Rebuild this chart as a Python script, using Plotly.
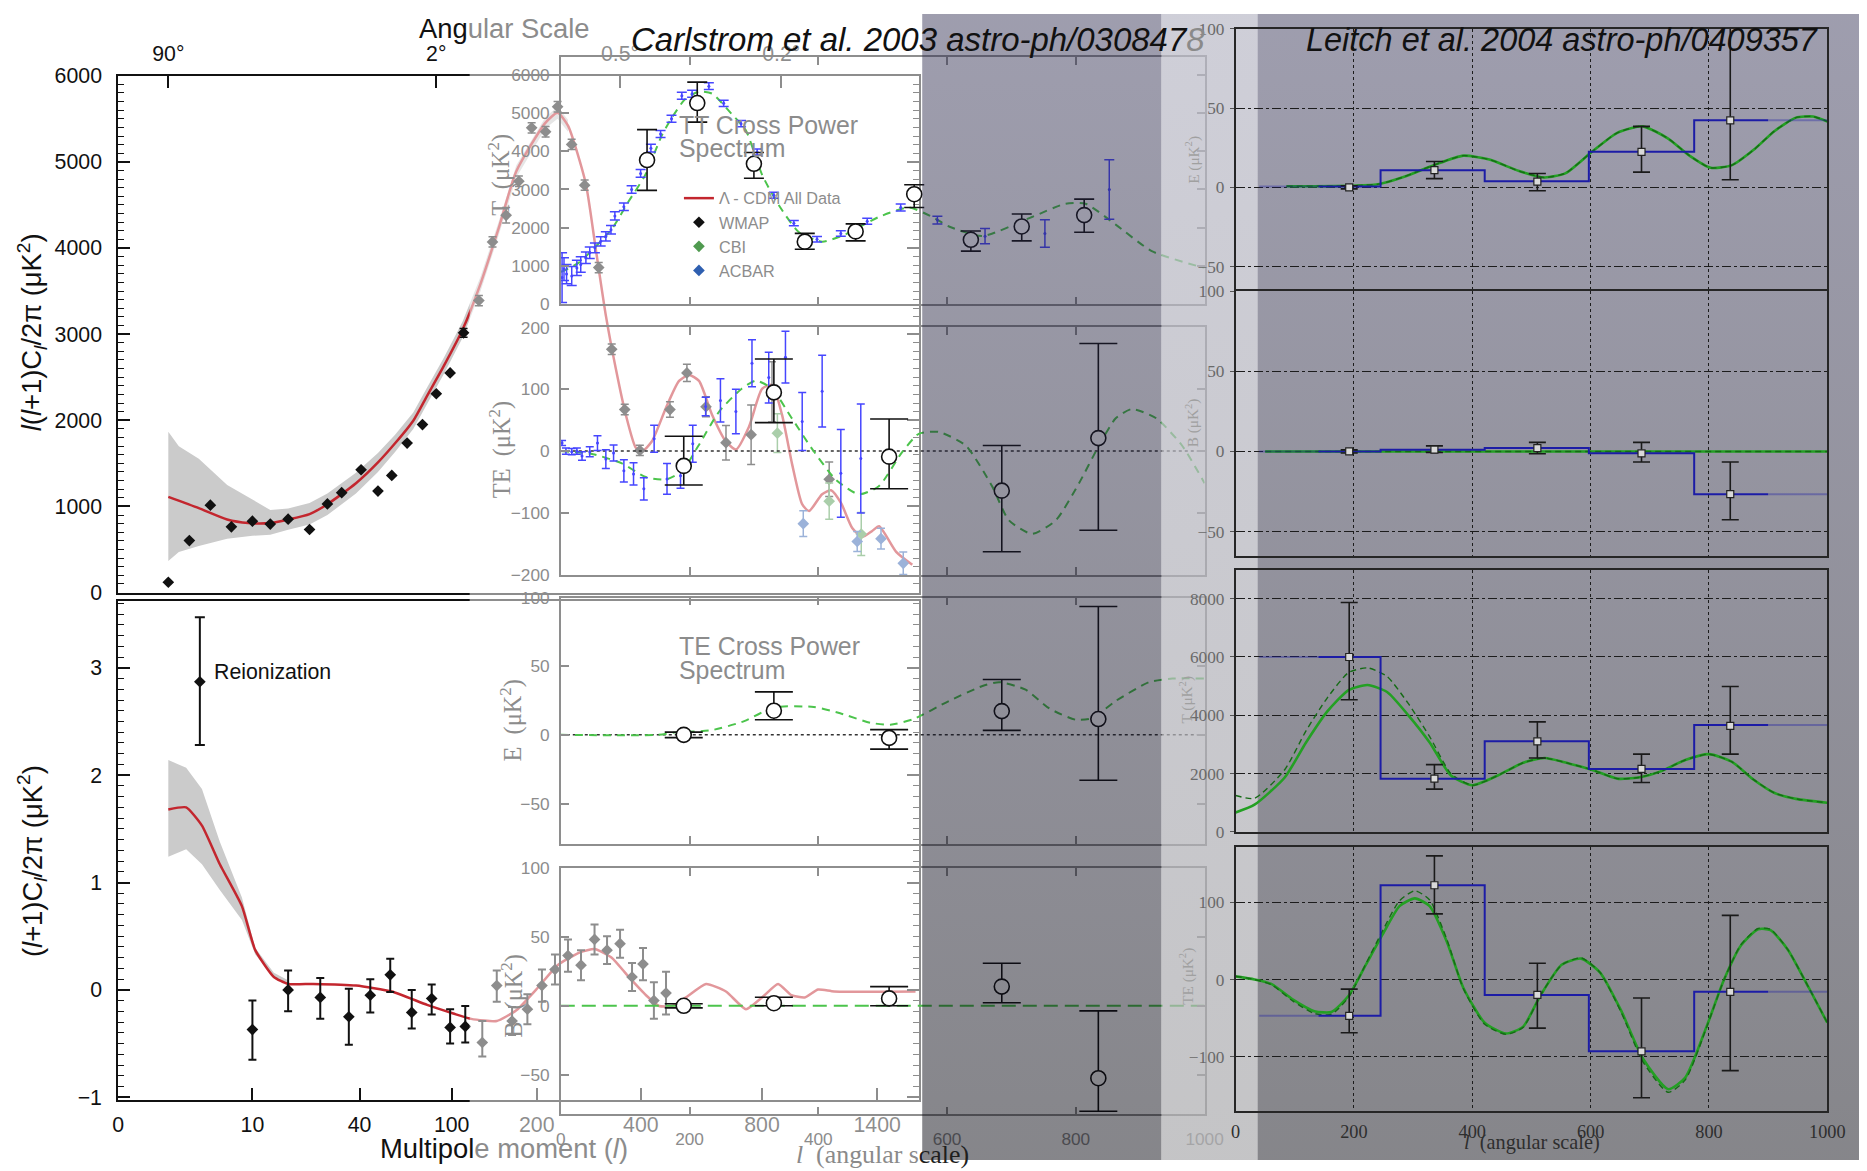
import numpy as np
import plotly.graph_objects as go

W, H = 1867, 1171            # size of the finished picture, in picture pixels
PAGE_MARGIN = 8              # default body margin the browser puts round the plot div
CAPTURE_SCALE = 0.9855       # picture pixels per page pixel in the captured view
VIEW_W, VIEW_H = round(W / CAPTURE_SCALE), round(H / CAPTURE_SCALE)
FIG_W, FIG_H = VIEW_W - 2 * PAGE_MARGIN, VIEW_H - 2 * PAGE_MARGIN
SANS = "Liberation Sans"
SERIF = "Liberation Serif"

# ---------------- WMAP first-year figure: TT (upper) and TE (lower) ----------------
# the multipole axis of this figure is stretched: tick multipoles and their place on the axis
WMAP_AXIS_L = [0, 2, 10, 40, 100, 200, 400, 800, 1400, 2000]
WMAP_AXIS_U = [0, 50, 134, 241, 333, 418, 522, 643, 758, 873]
WMAP_L_TICKS = [0, 10, 40, 100, 200, 400, 800, 1400]
ANGLE_L = [2, 90, 360, 900]
ANGLE_TEXT = ["90°", "2°", "0.5°", "0.2°"]

TT_LOWL_L = [2, 4, 6, 8, 10, 15, 20, 26, 31, 35, 41, 52, 61, 71, 81, 90, 99]
TT_LOWL_V = [120, 604, 1015, 763, 829, 795, 852, 732, 1029, 1160, 1426, 1178, 1360, 1735, 1950, 2308, 2550]
TT_BIN_L = [114, 132, 148, 164, 179, 194, 217, 240, 267, 292, 319, 344, 369, 398,
            496, 552, 615, 681, 764, 852, 1150]
TT_BIN_V = [3015, 3390, 4071, 4380, 4775, 5395, 5350, 5640, 5203, 4730, 3773, 2825, 2125, 1650,
            2125, 2550, 2157, 1740, 1833, 2330, 1315]
TT_BIN_E = [50, 60, 60, 90, 60, 60, 60, 60, 60, 60, 60, 60, 60, 60,
            90, 100, 115, 200, 345, 350, 200]
CBI_L = [880, 1150, 1317]
CBI_V = [1850, 1061, 680]
CBI_E = [225, 210, 250]
ACBAR_L = [1015, 1296, 1420, 1536]
ACBAR_V = [800, 593, 626, 340]
ACBAR_E = [150, 115, 120, 130]

TT_MODEL_L = [2, 4.9, 7.6, 9.6, 15, 20, 26, 31, 39, 52, 63, 75, 84, 95, 113, 134, 155, 176, 217, 240,
              260, 294, 313, 333, 352, 371, 390, 403, 436, 483, 526, 559, 592, 635, 681, 714, 757, 800,
              852, 904, 957, 1009, 1045, 1113, 1160, 1212, 1270, 1322, 1374, 1410, 1499, 1583]
TT_MODEL_V = [1111, 980, 848, 807, 807, 848, 911, 1026, 1269, 1511, 1730, 1995, 2284, 2634, 3056, 3587,
              4222, 4890, 5456, 5570, 5420, 4752, 4002, 3206, 2595, 2065, 1684, 1638, 1753, 2146, 2457,
              2526, 2457, 2065, 1753, 1661, 1926, 2364, 2410, 2065, 1488, 1026, 946, 1142, 1188, 1038,
              750, 646, 715, 770, 473, 323]
TT_BAND_L = [2, 3, 4.9, 7.6, 10, 15, 20, 26, 31, 39, 52, 63, 75, 84, 95, 113, 134, 155, 176, 217, 240, 260]
TT_BAND_HI = [1867, 1700, 1555, 1250, 1080, 960, 975, 1040, 1150, 1390, 1620, 1830, 2090, 2380, 2730,
              3150, 3670, 4300, 4960, 5520, 5640, 5490]
TT_BAND_LO = [367, 470, 540, 626, 660, 670, 730, 790, 900, 1150, 1400, 1630, 1900, 2190, 2540,
              2960, 3500, 4140, 4820, 5390, 5500, 5350]

TE_L = [10, 20, 29, 37, 47, 60, 74, 87, 99, 116, 136, 153, 171, 189, 210, 235, 260, 285, 311, 335,
        360, 383, 407, 443, 483]
TE_V = [-0.37, 0.0, -0.07, -0.25, -0.05, 0.14, -0.21, -0.08, -0.35, -0.34, -0.49, 0.04, -0.29, -0.18,
        0.04, 0.19, 0.32, 0.23, 0.47, 0.37, 0.43, 0.12, 0.24, -0.10, -0.03]
TE_UP = [0.27, 0.18, 0.18, 0.26, 0.15, 0.15, 0.21, 0.13, 0.17, 0.19, 0.20, 0.14, 0.13, 0.14, 0.15,
         0.14, 0.15, 0.14, 0.14, 0.13, 0.13, 0.13, 0.15, 0.17, 0.20]
TE_DN = [0.28, 0.20, 0.20, 0.26, 0.16, 0.16, 0.15, 0.15, 0.15, 0.15, 0.13, 0.15, 0.13, 0.14, 0.15,
         0.14, 0.15, 0.14, 0.14, 0.13, 0.13, 0.13, 0.15, 0.17, 0.20]
REION_L = [5]
REION_V = [2.87]
REION_UP = [0.60]
REION_DN = [0.59]
TE_MODEL_L = [2, 3.7, 5.2, 6.9, 9, 10.8, 16, 20, 27, 39, 61, 84, 102, 123, 153, 176, 202, 240, 283, 311,
              344, 375, 417, 460, 503, 549, 615, 681, 747, 800, 884, 953, 1023, 1092, 1176, 1600]
TE_MODEL_V = [1.68, 1.70, 1.53, 1.17, 0.78, 0.37, 0.12, 0.055, 0.055, 0.04, -0.015, -0.14, -0.22, -0.27,
              -0.29, -0.19, 0.02, 0.23, 0.35, 0.38, 0.30, 0.13, -0.05, -0.15, -0.15, -0.07, 0.055, -0.015,
              -0.18, -0.07, 0.055, -0.05, -0.07, 0.003, -0.015, -0.015]
TE_BAND_L = [2, 3.7, 5.2, 6.9, 9, 10.8, 16, 20]
TE_BAND_HI = [2.14, 2.07, 1.87, 1.38, 0.86, 0.39, 0.16, 0.09]
TE_BAND_LO = [1.24, 1.31, 1.17, 0.93, 0.65, 0.33, 0.12, 0.05]

# ---------------- DASI (Carlstrom et al. 2003): T, TE, E, B ----------------
DASI_T_L = [134, 212, 300, 379, 458, 549, 637, 716, 813]
DASI_T_V = [3770, 5258, 3671, 1637, 1905, 2877, 1687, 2034, 2331]
DASI_T_UP = [793, 546, 297, 218, 198, 248, 228, 327, 417]
DASI_T_DN = [794, 498, 377, 199, 248, 347, 298, 377, 446]
DASI_L = [191, 331, 510, 685, 835]
DASI_TE_V = [-24, 95, -9, -64, 21]
DASI_TE_UP = [48, 54, 61, 73, 153]
DASI_TE_DN = [31, 49, 52, 99, 149]
DASI_E_V = [0, 17.6, -2.2, 17.3, 11.5]
DASI_E_UP = [2, 13.7, 6, 23, 82]
DASI_E_DN = [2, 6.6, 8.2, 14, 44.5]
DASI_B_V = [0, 1.9, 5.4, 14, -52.7]
DASI_B_UP = [1.5, 4.3, 8.6, 17, 49]
DASI_B_DN = [1.5, 1.9, 5.4, 11.8, 24]

CT_BLUE_L = [2, 5, 9, 17, 25, 31, 39, 45, 53, 62, 70, 78, 84, 98, 110, 124, 140, 155, 172, 188,
             204, 230, 253, 280, 305, 331, 362, 398, 435, 476, 528, 585, 659, 752, 852]
CT_BLUE_V = [700, 920, 790, 740, 950, 1040, 1215, 1345, 1475, 1645, 1775, 1950, 2310, 2550, 3000, 3420,
             4080, 4450, 4850, 5450, 5500, 5700, 5250, 4720, 3980, 2850, 2120, 1700, 1850, 2170, 2530,
             2200, 1780, 1850, 3000]
CT_BLUE_E = [650, 300, 250, 250, 200, 200, 150, 150, 130, 120, 120, 110, 110, 100, 100, 100, 100, 90, 90,
             90, 90, 90, 80, 80, 80, 80, 70, 70, 70, 80, 90, 100, 200, 360, 775]
CTE_BLUE_L = [2, 8, 17, 25, 33, 45, 57, 70, 82, 98, 113, 129, 145, 165, 186, 205, 225, 248, 272, 297,
              323, 349, 375, 406, 435, 466]
CTE_BLUE_V = [13, 0, -1, 0, -8, -1, 13, -13, -3, -32, -37, -61, 20, -45, -40, 12, 72, 82, 64, 142,
              119, 152, 48, 97, -36, -12]
CTE_BLUE_E = [4, 5, 5, 5, 7, 8, 12, 15, 13, 18, 18, 18, 22, 25, 20, 30, 15, 35, 36, 38, 41, 42, 47,
              58, 71, 88]

CT_MODEL_L = [0, 7, 28, 53, 80, 105, 131, 157, 172, 193, 214, 235, 266, 287, 313, 339, 370, 406, 443,
              494, 541, 577, 603, 655, 732, 784, 815, 862, 918, 991, 1000]
CT_MODEL_V = [850, 893, 1091, 1488, 1984, 2679, 3373, 4415, 4861, 5357, 5556, 5506, 4960, 4563, 3373,
              2580, 1885, 1637, 1835, 2282, 2530, 2282, 2034, 1786, 2282, 2629, 2629, 2083, 1389, 992, 960]
CTE_MODEL_L = [0, 50, 95, 132, 163, 188, 214, 246, 281, 303, 328, 359, 390, 427, 463, 494, 530, 556,
               587, 629, 670, 696, 732, 769, 805, 836, 862, 887, 925, 965, 1000]
CTE_MODEL_V = [0, -5, -20, -42, -46, -33, 9, 64, 101, 114, 101, 53, 4, -46, -70, -57, -2, 28, 31, 9,
               -57, -112, -134, -112, -52, 9, 53, 68, 53, 9, -52]
CE_MODEL_L = [0, 150, 182, 233, 285, 331, 393, 434, 481, 512, 548, 603, 655, 681, 722, 759, 800, 826,
              862, 914, 950, 1000]
CE_MODEL_V = [0, 0, 2, 3.3, 10, 20, 20.3, 15.7, 8.8, 7.4, 11.5, 24.7, 35.6, 38.4, 32.9, 19.2, 11, 12.3,
              24.7, 38.4, 41, 41]
CB_MODEL_L = [0, 1000]
CB_MODEL_V = [0, 0]

# ---------------- CBI (Leitch et al. 2004): E, B, T, TE ----------------
LEIT_L = [192, 336, 510, 686, 836]
LEIT_EDGES = [245, 421, 597, 775]
LEIT_E_BIN = [0.5, 10.8, 3.8, 22.4, 42.3]
LEIT_E_V = [0, 10.8, 3.6, 22.4, 42.3]
LEIT_E_UP = [1, 5.5, 5.1, 16.1, 62]
LEIT_E_DN = [1, 5.3, 5.8, 12.8, 37.5]
LEIT_B_BIN = [0, 1, 2.1, -1.2, -26.7]
LEIT_B_V = [0, 1.2, 2.1, -1.2, -26.7]
LEIT_B_UP = [1, 2.3, 3.6, 6.9, 20.1]
LEIT_B_DN = [1, 1.9, 3.5, 5.4, 16]
LEIT_T_BIN = [6000, 1827, 3107, 2160, 3667]
LEIT_T_V = [6000, 1827, 3107, 2160, 3640]
LEIT_T_UP = [1867, 480, 666, 507, 1347]
LEIT_T_DN = [1467, 360, 574, 467, 973]
LEIT_TE_BIN = [-47, 122, -20, -93, -16]
LEIT_TE_V = [-47, 122, -20, -93, -16]
LEIT_TE_UP = [34.5, 38, 41, 69, 99]
LEIT_TE_DN = [22, 37, 43, 60, 102]

LE_MODEL_L = [86, 241, 285, 335, 385, 429, 479, 522, 558, 602, 645, 688, 731, 767, 803, 839, 875, 911,
              947, 976, 1000]
LE_MODEL_V = [0.7, 2, 6.7, 14, 20, 17.5, 10.3, 6.2, 9, 22.4, 34.4, 38.5, 30.8, 20, 12.3, 14, 23.5, 35.6,
              44, 44.7, 41.6]
LB_MODEL_L = [50, 1000]
LB_MODEL_V = [0, 0]
LT_MODEL_L = [0, 32, 83, 119, 155, 191, 223, 256, 292, 328, 364, 400, 443, 486, 522, 566, 602, 645, 681,
              717, 760, 800, 839, 875, 911, 947, 1000]
LT_SOLID_V = [667, 933, 1867, 3067, 4133, 4867, 5040, 4800, 4000, 3067, 1933, 1600, 1933, 2373, 2533,
              2333, 2133, 1827, 1867, 2067, 2467, 2667, 2400, 1800, 1333, 1133, 1000]
LT_DASHED_V = [1250, 1150, 2133, 3467, 4600, 5467, 5627, 5333, 4400, 3267, 2000, 1600, 1933, 2373, 2533,
               2333, 2133, 1827, 1867, 2067, 2467, 2667, 2400, 1800, 1333, 1133, 1000]
LTE_MODEL_L = [0, 32, 61, 97, 133, 162, 191, 220, 249, 277, 303, 328, 357, 385, 421, 457, 486, 515, 551,
               584, 616, 652, 688, 731, 760, 796, 825, 854, 883, 904, 933, 969, 1000]
LTE_SOLID_V = [4, 0, -6, -26, -41, -42, -21, 19, 59, 95, 105, 95, 49, -11, -56, -70, -61, -21, 19, 27, 9,
               -41, -102, -142, -127, -61, -1, 44, 65, 64, 39, -11, -56]
LTE_DASHED_V = [4, 0, -7, -28, -44, -45, -23, 20, 64, 102, 115, 103, 52, -12, -58, -71, -62, -21, 19,
                28, 9, -43, -106, -146, -130, -62, -1, 45, 66, 65, 39, -11, -56]

# ---------------- layout geometry (picture pixels) ----------------
WMAP_X = (120, 920)
WMAP_TT_Y = (72, 592)
WMAP_TE_Y = (600.7, 1103)
CARL_X = (562, 1205)
CARL_Y = [(53.6, 302), (325.3, 574), (597, 845), (869.5, 1117)]
LEIT_X = (1236, 1827)
LEIT_Y = [(24.9, 289), (289, 555), (569.7, 832.8), (848.4, 1113.4)]
FADE_X = (471, 923)
DARK_A_X = (923, 1162)
STRIP_X = (1162, 1258)
DARK_C_X = (1258, W + 40)
OVERLAY_TOP = 10
BLUE_FADE_IN = (40, 140)
BLUE_FADE_OUT = (900, 1000)

BLACK = "#111111"
RED = "#c3262e"
CARL_FRAME = "#8e8e8e"
CARL_TEXT = "#8c8c8c"
BLUE = "#4646ff"
GREEN_D = "#4cc44c"
LEIT_FRAME = "#262626"
LEIT_BLUE = "#1c1ca6"
LEIT_GREEN = "#23a023"
LEIT_GREEN_D = "#156b15"
LEIT_XTEXT = "#2e2e2e"


def warp(l):
    return np.interp(np.asarray(l, dtype=float), WMAP_AXIS_L, WMAP_AXIS_U)


def px(x):
    return (x / CAPTURE_SCALE - PAGE_MARGIN) / FIG_W


def py(y):
    return 1 - (y / CAPTURE_SCALE - PAGE_MARGIN) / FIG_H


def fs(size):
    return size / CAPTURE_SCALE


def xdom(x0, x1):
    return [px(x0), px(x1)]


def ydom(top, bottom):
    return [py(bottom), py(top)]


def ax(i, kind):
    return kind if i == 1 else f"{kind}{i}"


fig = go.Figure()


def add(i, **kw):
    kw.setdefault("hoverinfo", "skip")
    kw.setdefault("showlegend", False)
    fig.add_trace(go.Scatter(xaxis=ax(i, "x"), yaxis=ax(i, "y"), **kw))


def err(up, dn, color, width, thick=1.5):
    return dict(type="data", symmetric=False, array=up, arrayminus=dn, color=color,
                thickness=thick, width=width)


# ---- 1: WMAP TT ----
bx = warp(TT_BAND_L)
add(1, x=np.concatenate([bx, bx[::-1]]), y=TT_BAND_HI + TT_BAND_LO[::-1], fill="toself",
    fillcolor="#cbcbcb", mode="none")
add(1, x=warp(TT_MODEL_L), y=TT_MODEL_V, mode="lines",
    line=dict(color=RED, width=2.5, shape="spline", smoothing=0.6),
    name="Λ - CDM All Data", showlegend=True)
add(1, x=warp(TT_LOWL_L), y=TT_LOWL_V, mode="markers",
    marker=dict(symbol="diamond", size=9, color=BLACK))
add(1, x=warp(TT_BIN_L), y=TT_BIN_V, mode="markers", marker=dict(symbol="diamond", size=9, color=BLACK),
    error_y=err(TT_BIN_E, TT_BIN_E, BLACK, 4), name="WMAP", showlegend=True)
add(1, x=warp(CBI_L), y=CBI_V, mode="markers", marker=dict(symbol="diamond", size=9, color="#4f9a4f"),
    error_y=err(CBI_E, CBI_E, "#4f9a4f", 4), name="CBI", showlegend=True)
add(1, x=warp(ACBAR_L), y=ACBAR_V, mode="markers", marker=dict(symbol="diamond", size=9, color="#2f5fb0"),
    error_y=err(ACBAR_E, ACBAR_E, "#2f5fb0", 4), name="ACBAR", showlegend=True)

# ---- 2: WMAP TE ----
bx = warp(TE_BAND_L)
add(2, x=np.concatenate([bx, bx[::-1]]), y=TE_BAND_HI + TE_BAND_LO[::-1], fill="toself",
    fillcolor="#cbcbcb", mode="none")
add(2, x=warp(TE_MODEL_L), y=TE_MODEL_V, mode="lines",
    line=dict(color=RED, width=2.5, shape="spline", smoothing=0.5))
add(2, x=warp(TE_L), y=TE_V, mode="markers", marker=dict(symbol="diamond", size=9, color=BLACK),
    error_y=err(TE_UP, TE_DN, BLACK, 4, 2))
add(2, x=warp(REION_L), y=REION_V, mode="markers", marker=dict(symbol="diamond", size=9, color=BLACK),
    error_y=err(REION_UP, REION_DN, BLACK, 5, 2))


def rect(x0, x1, y0, y1):
    return [x0, x1, x1, x0, x0], [y0, y0, y1, y1, y0]


# ---- 3: white wash over the right part of the WMAP figure ----
xs, ys = rect(FADE_X[0], FADE_X[1], OVERLAY_TOP, H + 40)
add(3, x=xs, y=ys, fill="toself", fillcolor="rgba(255,255,255,0.52)", mode="none")

# ---- 4-7: DASI panels ----
add(4, x=CT_MODEL_L, y=CT_MODEL_V, mode="lines",
    line=dict(color=GREEN_D, width=2, dash="8px,6px", shape="spline", smoothing=0.6))
add(4, x=CT_BLUE_L, y=CT_BLUE_V, mode="markers", marker=dict(size=3, color=BLUE),
    error_y=err(CT_BLUE_E, CT_BLUE_E, BLUE, 5))
add(4, x=DASI_T_L, y=DASI_T_V, mode="markers",
    marker=dict(symbol="circle", size=15, color="white", line=dict(color=BLACK, width=1.6)),
    error_y=err(DASI_T_UP, DASI_T_DN, BLACK, 10, 1.6))

add(5, x=[0, 1000], y=[0, 0], mode="lines", line=dict(color="#333", width=1.5, dash="dot"))
add(5, x=CTE_MODEL_L, y=CTE_MODEL_V, mode="lines",
    line=dict(color=GREEN_D, width=2, dash="8px,6px", shape="spline", smoothing=0.6))
add(5, x=CTE_BLUE_L, y=CTE_BLUE_V, mode="markers", marker=dict(size=3, color=BLUE),
    error_y=err(CTE_BLUE_E, CTE_BLUE_E, BLUE, 4))
add(5, x=DASI_L, y=DASI_TE_V, mode="markers",
    marker=dict(symbol="circle", size=15, color="white", line=dict(color=BLACK, width=1.6)),
    error_y=err(DASI_TE_UP, DASI_TE_DN, BLACK, 19, 1.6))

add(6, x=[0, 1000], y=[0, 0], mode="lines", line=dict(color="#333", width=1.5, dash="dot"))
add(6, x=CE_MODEL_L, y=CE_MODEL_V, mode="lines",
    line=dict(color=GREEN_D, width=2, dash="8px,6px", shape="spline", smoothing=0.6))
add(6, x=DASI_L, y=DASI_E_V, mode="markers",
    marker=dict(symbol="circle", size=15, color="white", line=dict(color=BLACK, width=1.6)),
    error_y=err(DASI_E_UP, DASI_E_DN, BLACK, 19, 1.6))

add(7, x=CB_MODEL_L, y=CB_MODEL_V, mode="lines", line=dict(color=GREEN_D, width=2, dash="14px,7px"))
add(7, x=DASI_L, y=DASI_B_V, mode="markers",
    marker=dict(symbol="circle", size=15, color="white", line=dict(color=BLACK, width=1.6)),
    error_y=err(DASI_B_UP, DASI_B_DN, BLACK, 19, 1.6))

# ---- 8: grey bands across the right half (gradient runs bottom -> top) ----
for (x0, x1), top, bottom in [
    (DARK_A_X, "rgba(40,38,75,0.45)", "rgba(0,0,8,0.48)"),
    (STRIP_X, "rgba(188,188,201,0.72)", "rgba(173,173,175,0.72)"),
    (DARK_C_X, "rgba(40,38,75,0.45)", "rgba(0,0,8,0.48)"),
]:
    xs, ys = rect(x0, x1, OVERLAY_TOP, H + 40)
    add(8, x=xs, y=ys, fill="toself", mode="none", fillcolor=top,
        fillgradient=dict(type="vertical", colorscale=[[0, bottom], [1, top]]))


# ---- 9-12: CBI panels ----
def leitch_panel(i, bins, vals, up, dn, models):
    for lv, style in models:
        add(i, x=lv[0], y=lv[1], mode="lines", line=style)
    xs = [BLUE_FADE_IN[1]] + LEIT_EDGES + [BLUE_FADE_OUT[0]]
    ys = list(bins) + [bins[-1]]
    add(i, x=xs, y=ys, mode="lines", line=dict(color=LEIT_BLUE, width=2, shape="hv"))
    add(i, x=list(BLUE_FADE_IN), y=[bins[0], bins[0]], mode="lines", opacity=0.35,
        line=dict(color=LEIT_BLUE, width=2))
    add(i, x=list(BLUE_FADE_OUT), y=[bins[-1], bins[-1]], mode="lines", opacity=0.35,
        line=dict(color=LEIT_BLUE, width=2))
    add(i, x=LEIT_L, y=vals, mode="markers",
        marker=dict(symbol="square", size=7, color="#d9d9d9", line=dict(color="#222", width=1.2)),
        error_y=err(up, dn, "#1a1a1a", 8.5, 1.6))


solid = dict(color=LEIT_GREEN, width=2.6, shape="spline", smoothing=0.6)
dashed = dict(color=LEIT_GREEN_D, width=1.4, dash="6px,4px", shape="spline", smoothing=0.6)
leitch_panel(9, LEIT_E_BIN, LEIT_E_V, LEIT_E_UP, LEIT_E_DN,
             [((LE_MODEL_L, LE_MODEL_V), solid), ((LE_MODEL_L, LE_MODEL_V), dashed)])
leitch_panel(10, LEIT_B_BIN, LEIT_B_V, LEIT_B_UP, LEIT_B_DN,
             [((LB_MODEL_L, LB_MODEL_V), solid), ((LB_MODEL_L, LB_MODEL_V), dashed)])
leitch_panel(11, LEIT_T_BIN, LEIT_T_V, LEIT_T_UP, LEIT_T_DN,
             [((LT_MODEL_L, LT_SOLID_V), solid), ((LT_MODEL_L, LT_DASHED_V), dashed)])
leitch_panel(12, LEIT_TE_BIN, LEIT_TE_V, LEIT_TE_UP, LEIT_TE_DN,
             [((LTE_MODEL_L, LTE_SOLID_V), solid), ((LTE_MODEL_L, LTE_DASHED_V), dashed)])

# ---------------- axes ----------------
layout = dict(width=FIG_W, height=FIG_H, margin=dict(l=0, r=0, t=0, b=0), paper_bgcolor="white",
              plot_bgcolor="rgba(0,0,0,0)", font=dict(family=SANS, color=BLACK),
              hovermode=False)


def set_axes(i, xd, yd, xo, yo):
    base = dict(showgrid=False, zeroline=False, fixedrange=True)
    layout["xaxis" if i == 1 else f"xaxis{i}"] = dict(base, domain=xd, anchor=ax(i, "y"), **xo)
    layout["yaxis" if i == 1 else f"yaxis{i}"] = dict(base, domain=yd, anchor=ax(i, "x"), **yo)


wm_line = dict(showline=True, linecolor=BLACK, linewidth=2, ticks="inside", ticklen=12, tickwidth=2,
               tickcolor=BLACK, tickfont=dict(size=fs(21), color=BLACK))
set_axes(1, xdom(*WMAP_X), ydom(*WMAP_TT_Y),
         dict(wm_line, range=[0, 800], side="top", mirror=True, tickvals=warp(ANGLE_L),
              ticktext=ANGLE_TEXT, ticklabelstandoff=4),
         dict(wm_line, range=[0, 6000], tickvals=list(range(0, 6001, 1000)), mirror="allticks",
              ticklabelstandoff=10,
              minor=dict(tickmode="linear", tick0=0, dtick=100, ticks="inside", ticklen=6,
                         tickwidth=1.2, tickcolor=BLACK)))
set_axes(2, xdom(*WMAP_X), ydom(*WMAP_TE_Y),
         dict(wm_line, range=[0, 800], mirror=True, tickvals=warp(WMAP_L_TICKS),
              ticktext=[str(v) for v in WMAP_L_TICKS], ticklabelstandoff=4),
         dict(wm_line, range=[-1.03, 3.62], tickvals=[-1, 0, 1, 2, 3], mirror="allticks",
              ticklabelstandoff=10,
              minor=dict(tickmode="linear", tick0=0, dtick=0.1, ticks="inside", ticklen=6,
                         tickwidth=1.2, tickcolor=BLACK)))

# full-figure helper axes, measured in picture pixels
hidden_x = dict(range=[PAGE_MARGIN * CAPTURE_SCALE, (PAGE_MARGIN + FIG_W) * CAPTURE_SCALE], visible=False)
hidden_y = dict(range=[(PAGE_MARGIN + FIG_H) * CAPTURE_SCALE, PAGE_MARGIN * CAPTURE_SCALE], visible=False)
set_axes(3, [0, 1], [0, 1], hidden_x, hidden_y)
set_axes(8, [0, 1], [0, 1], hidden_x, hidden_y)

carl_line = dict(showline=True, linecolor=CARL_FRAME, linewidth=1.5, ticks="inside", ticklen=8,
                 tickwidth=1.5, tickcolor=CARL_FRAME, mirror="allticks",
                 tickfont=dict(size=fs(17), color=CARL_TEXT))
carl_y = [
    dict(range=[0, 6450], tickvals=list(range(0, 6001, 1000))),
    dict(range=[-200, 200], tickvals=[-200, -100, 0, 100, 200]),
    dict(range=[-79.5, 100], tickvals=[-50, 0, 50, 100]),
    dict(range=[-79, 100], tickvals=[-50, 0, 50, 100]),
]
for k in range(4):
    i = 4 + k
    last = k == 3
    xo = dict(carl_line, range=[0, 1000], showticklabels=last, ticklabelstandoff=8,
              tickvals=[0, 200, 400, 600, 800, 1000] if last else [200, 400, 600, 800])
    set_axes(i, xdom(*CARL_X), ydom(*CARL_Y[k]), xo, dict(carl_line, ticklabelstandoff=6, **carl_y[k]))

leit_x = dict(showline=True, linecolor=LEIT_FRAME, linewidth=1.5, showgrid=True,
              gridcolor="#1c1c1c", griddash="dot", gridwidth=1.3)
leit_y = dict(showline=True, linecolor=LEIT_FRAME, linewidth=1.5, mirror=True, showgrid=True,
              gridcolor="#1c1c1c", griddash="dashdot", gridwidth=1.2, ticks="outside", ticklen=4,
              tickcolor="#555", tickfont=dict(family=SERIF, size=fs(17), color="#6a6a6a"),
              ticklabelstandoff=2)
leit_yr = [
    dict(range=[-65.7, 100], tickvals=[-50, 0, 50, 100]),
    dict(range=[-65.2, 100], tickvals=[-50, 0, 50, 100]),
    dict(range=[0, 8970], tickvals=[0, 2000, 4000, 6000, 8000]),
    dict(range=[-170, 171], tickvals=[-100, 0, 100]),
]
for k in range(4):
    i = 9 + k
    last = k == 3
    # the E panel sits directly on the B panel: draw only its upper edge
    edge = dict(side="top", mirror=False) if k == 0 else dict(mirror=True)
    xo = dict(leit_x, range=[0, 1000], showticklabels=last, ticklabelstandoff=4,
              tickvals=[0, 200, 400, 600, 800, 1000] if last else [200, 400, 600, 800],
              tickfont=dict(family=SERIF, size=fs(18), color=LEIT_XTEXT), **edge)
    set_axes(i, xdom(*LEIT_X), ydom(*LEIT_Y[k]), xo, dict(leit_y, **leit_yr[k]))


# ---------------- text ----------------
def note(text, x, y, size, color=BLACK, xanchor="center", angle=0, family=SANS):
    return dict(text=text, x=px(x), y=py(y), xref="paper", yref="paper", showarrow=False,
                xanchor=xanchor, yanchor="middle", textangle=angle,
                font=dict(size=fs(size), color=color, family=family))


GREY = "#8c8c8c"
ann = [
    note('<span style="color:#111">Ang</span><span style="color:#8c8c8c">ular Scale</span>', 505, 24, 27),
    note('<span style="color:#111">Multipol</span><span style="color:#8c8c8c">e moment (<i>l</i>)</span>',
         505, 1151, 27),
    note("<i>l</i>(<i>l</i>+1)C<sub><i>l</i></sub>/2π (μK<sup>2</sup>)", 34, 330, 27, angle=-90),
    note("(<i>l</i>+1)C<sub><i>l</i></sub>/2π (μK<sup>2</sup>)", 34, 862, 27, angle=-90),
    note("Reionization", 214, 672, 21, xanchor="left"),
    note('<i>Carlstrom et al. 2003 astro-ph/030847<span style="color:#8a8a8a">8</span></i>',
         630, 36, 32.5, xanchor="left"),
    note("<i>Leitch et al. 2004 astro-ph/0409357</i>", 1304, 36, 32, xanchor="left"),
    note("TT Cross Power", 678, 122, 24.5, GREY, xanchor="left"),
    note("Spectrum", 678, 145, 24.5, GREY, xanchor="left"),
    note("TE Cross Power", 678, 646, 24.5, GREY, xanchor="left"),
    note("Spectrum", 678, 670, 24.5, GREY, xanchor="left"),
    note("T  (μK<sup>2</sup>)", 500, 172, 24, GREY, angle=-90, family=SERIF),
    note("TE  (μK<sup>2</sup>)", 502, 448, 24, GREY, angle=-90, family=SERIF),
    note("E  (μK<sup>2</sup>)", 513, 721, 24, GREY, angle=-90, family=SERIF),
    note("B  (μK<sup>2</sup>)", 513, 998, 24, GREY, angle=-90, family=SERIF),
    note('<span style="color:#8a8a8a"><i>l</i>  (angular s</span><span style="color:#1e1e1e">cale)</span>',
         883, 1157, 25.5, family=SERIF),
    note("E (μK<sup>2</sup>)", 1193, 157, 15, "#a0a0a0", angle=-90, family=SERIF),
    note("B (μK<sup>2</sup>)", 1193, 421, 15, "#a0a0a0", angle=-90, family=SERIF),
    note("T (μK<sup>2</sup>)", 1187, 700, 15, "#a0a0a0", angle=-90, family=SERIF),
    note("TE (μK<sup>2</sup>)", 1187, 978, 15, "#a0a0a0", angle=-90, family=SERIF),
    note("<i>l</i>  (angular scale)", 1532, 1145, 20, LEIT_XTEXT, family=SERIF),
]
layout["annotations"] = ann

layout["legend"] = dict(x=px(680), y=py(178), xanchor="left", yanchor="top",
                        bgcolor="rgba(0,0,0,0)", borderwidth=0, tracegroupgap=0,
                        font=dict(size=fs(16), color=GREY, family=SANS))

fig.update_layout(**layout)
fig.write_html("out.html")
